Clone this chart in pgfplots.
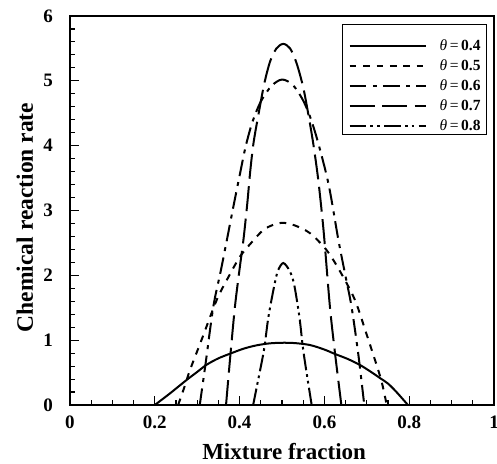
\documentclass[border=0pt]{standalone}
\usepackage{pgfplots}
\pgfplotsset{compat=1.18}
\usepackage{fontspec}
\setmainfont{Liberation Serif}
\begin{document}
\begin{tikzpicture}
\begin{axis}[
  scale only axis,
  width=424pt, height=389pt,
  xmin=0, xmax=1, ymin=0, ymax=6,
  xtick={0,0.2,0.4,0.6,0.8,1}, ytick={0,1,2,3,4,5,6},
  xticklabels={0,0.2,0.4,0.6,0.8,1},
  minor x tick num=3, minor y tick num=4,
  tick align=inside, tick pos=left,
  major tick length=9pt, minor tick length=5pt,
  axis line style={line width=1.6pt},
  every tick/.style={line width=1.1pt, black},
  /pgf/number format/assume math mode=true,
  ticklabel style={font=\fontsize{19}{21}\selectfont\bfseries},
  xticklabel style={anchor=north, inner sep=0pt, yshift=-11pt},
  yticklabel style={anchor=east, inner sep=0pt, xshift=-17pt},
  xlabel={Mixture fraction}, ylabel={Chemical reaction rate},
  xlabel style={font=\fontsize{23}{26}\selectfont\bfseries, at={(axis description cs:0.505,-0.139)}, anchor=base},
  ylabel style={font=\fontsize{23.5}{26}\selectfont\bfseries, at={(axis description cs:-0.0873,0.482)}, anchor=base, rotate=0},
  legend style={at={(rel axis cs:1,1)}, xshift=-7pt, yshift=-8pt, anchor=north east,
    draw=black, line width=0.8pt, inner xsep=6pt, inner ysep=1pt,
    font=\fontsize{15.5}{18}\selectfont,
    nodes={inner sep=0pt, text height=12pt, text depth=3pt},
    row sep=5pt, column sep=13pt},
  legend cell align=left,
  legend image code/.code={\draw[#1] (0pt,0pt) -- (76pt,0pt);},
  every axis plot/.append style={line width=2pt, black, line cap=butt},
]
\addlegendimage{empty legend}
\addlegendentry[text height=8pt, text depth=0pt]{}

\addplot[smooth, solid] coordinates {
(0.2,0) (0.236,0.18) (0.275,0.386) (0.30,0.51) (0.322,0.62) (0.35,0.72) (0.381,0.80) (0.41,0.87) (0.44,0.92) (0.47,0.95) (0.5,0.96) (0.53,0.955) (0.566,0.925) (0.60,0.855) (0.625,0.787) (0.655,0.71) (0.684,0.617) (0.71,0.51) (0.731,0.416) (0.75,0.33) (0.77,0.2) (0.797,0)
};
\addlegendentry{{\itshape θ}\,=\,\textbf{0.4}}

\addplot[smooth, dash pattern=on 6.7pt off 6.7pt] coordinates {
(0.255,0) (0.27,0.28) (0.283,0.54) (0.31,1.0) (0.334,1.42) (0.35,1.68) (0.37,1.93) (0.401,2.29) (0.43,2.52) (0.456,2.70) (0.48,2.78) (0.503,2.81) (0.53,2.77) (0.566,2.65) (0.605,2.39) (0.637,2.06) (0.672,1.62) (0.70,1.08) (0.72,0.68) (0.735,0.36) (0.747,0)
};
\addlegendentry{{\itshape θ}\,=\,\textbf{0.5}}

\addplot[smooth, dash pattern=on 16.7pt off 6.5pt on 4pt off 6pt] coordinates {
(0.306,0) (0.32,0.65) (0.338,1.516) (0.355,2.05) (0.37,2.545) (0.385,3.05) (0.401,3.57) (0.414,3.98) (0.43,4.36) (0.45,4.68) (0.475,4.92) (0.5,5.02) (0.525,4.94) (0.548,4.72) (0.566,4.45) (0.585,4.05) (0.61,3.4) (0.633,2.545) (0.65,1.98) (0.664,1.516) (0.68,0.78) (0.694,0)
};
\addlegendentry{{\itshape θ}\,=\,\textbf{0.6}}

\addplot[smooth, dash pattern=on 25pt off 7.5pt] coordinates {
(0.368,0) (0.378,0.75) (0.389,1.516) (0.40,2.1) (0.409,2.545) (0.418,3.1) (0.425,3.6) (0.433,4.05) (0.445,4.5) (0.458,4.95) (0.472,5.3) (0.487,5.5) (0.503,5.57) (0.519,5.5) (0.534,5.28) (0.55,4.9) (0.563,4.45) (0.574,4.02) (0.585,3.5) (0.594,2.96) (0.60,2.545) (0.613,1.516) (0.625,0.8) (0.64,0)
};
\addlegendentry{{\itshape θ}\,=\,\textbf{0.7}}

\addplot[smooth, dash pattern=on 16.7pt off 4pt on 2.7pt off 4pt on 2.7pt off 4.3pt] coordinates {
(0.432,0) (0.442,0.33) (0.4575,0.85) (0.468,1.36) (0.483,1.88) (0.491,2.08) (0.503,2.19) (0.517,2.08) (0.528,1.88) (0.541,1.36) (0.55,0.85) (0.562,0.33) (0.57,0)
};
\addlegendentry{{\itshape θ}\,=\,\textbf{0.8}}
\end{axis}
\pgfresetboundingbox
\path ([xshift=-70pt,yshift=-59pt]current axis.south west) rectangle ([xshift=3pt,yshift=16pt]current axis.north east);
\end{tikzpicture}
\end{document}
